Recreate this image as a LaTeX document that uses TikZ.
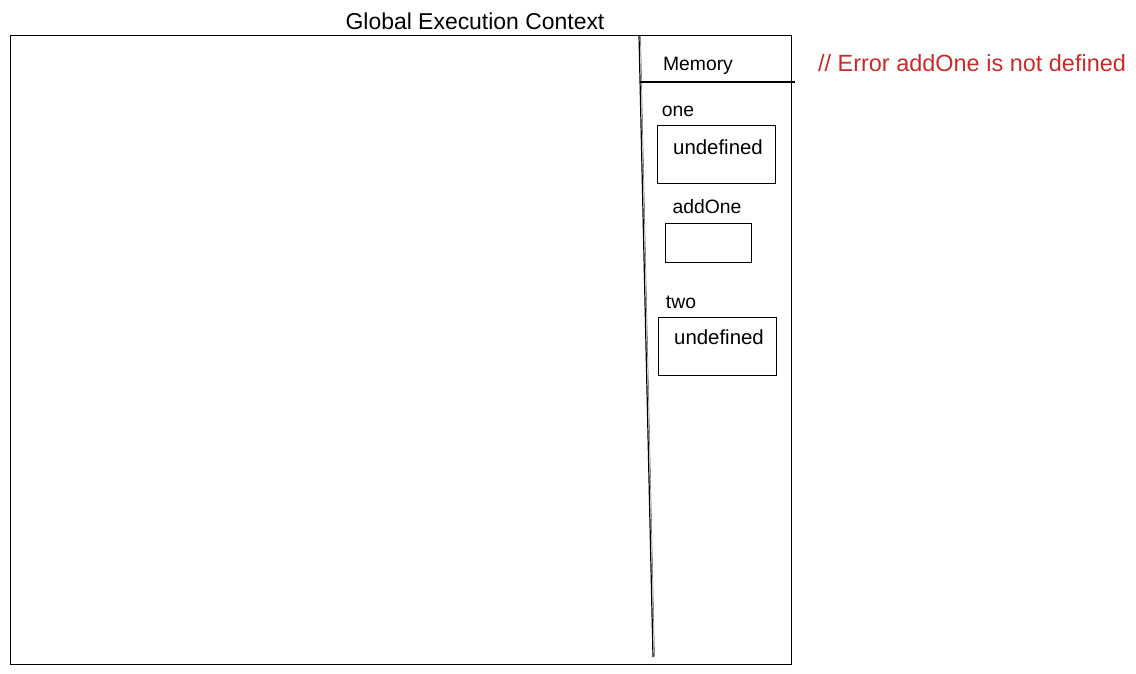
\documentclass[tikz,border=0pt]{standalone}
\usepackage{fontspec}
\setmainfont{Liberation Sans}
\definecolor{errred}{HTML}{C92A2A}
\begin{document}
\begin{tikzpicture}[x=0.75pt,y=-0.75pt,
  sk/.style={draw=black,line width=0.9pt},
  lbl/.style={font=\fontsize{14.5}{16}\selectfont,inner sep=0pt,text=black},
  big/.style={font=\fontsize{17.2}{19}\selectfont},
  und/.style={font=\fontsize{15.3}{17}\selectfont}]
\useasboundingbox (0,0) rectangle (1136,674);
% main frame
\node[sk,draw,minimum width=781*0.75pt,minimum height=629*0.75pt,anchor=north west,inner sep=0pt] (gec) at (10,35) {};
\node[lbl,big] (title) at (475,21) {Global Execution Context};
% divider
\coordinate (dtop) at (639,35);
\coordinate (dbot) at (653,657);
\draw[sk] (dtop) -- (dbot);
\coordinate (dtop2) at (640.5,36);
\coordinate (dbot2) at (654.5,657);
\draw[line width=0.35pt,black!70] (dtop2) -- (dbot2);
\coordinate (hl) at (640,82);
\coordinate (hr) at (795,82);
\draw[sk] (hl) -- (hr);
\node[lbl] (mem) at (698,66) {Memory};
% variables
\node[lbl] (one) at (678,111) {one};
\node[sk,draw,minimum width=118*0.75pt,minimum height=58*0.75pt,anchor=north west,inner sep=0pt] (b1) at (657,125) {};
\node[lbl,und] (u1) at (718,147) {undefined};
\node[lbl] (add) at (707,207) {addOne};
\node[sk,draw,minimum width=86*0.75pt,minimum height=39*0.75pt,anchor=north west,inner sep=0pt] (b2) at (665,223) {};
\node[lbl] (two) at (681,302) {two};
\node[sk,draw,minimum width=118*0.75pt,minimum height=58*0.75pt,anchor=north west,inner sep=0pt] (b3) at (658,317) {};
\node[lbl,und] (u3) at (719,337) {undefined};
% error
\node[lbl,big,text=errred,font=\fontsize{17.6}{19}\selectfont] (err) at (972,63) {// Error addOne is not defined};
\end{tikzpicture}
\end{document}
